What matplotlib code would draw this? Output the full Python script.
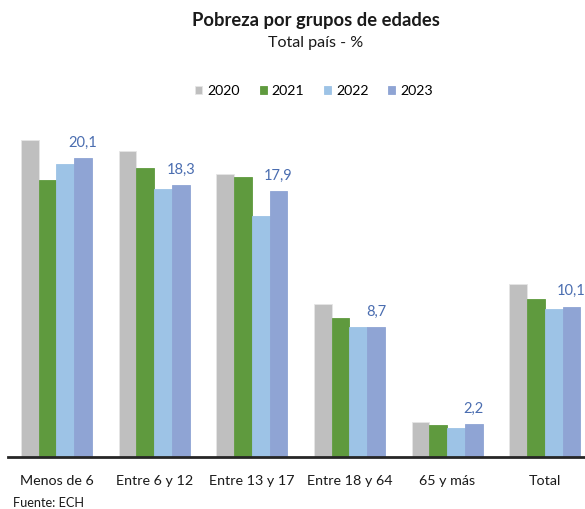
import numpy as np
import matplotlib.pyplot as plt

plt.rcParams['font.family'] = ['Lato', 'DejaVu Sans']

grupos = ['Menos de 6', 'Entre 6 y 12', 'Entre 13 y 17', 'Entre 18 y 64', '65 y más', 'Total']
anios = ['2020', '2021', '2022', '2023']
v2020 = [21.3, 20.6, 19.0, 10.3, 2.3, 11.6]
v2021 = [18.6, 19.4, 18.8, 9.3, 2.1, 10.6]
v2022 = [19.7, 18.0, 16.2, 8.7, 1.9, 9.9]
v2023 = [20.1, 18.3, 17.9, 8.7, 2.2, 10.1]
colores = ['#BFBFBF', '#5F9A3E', '#9DC3E6', '#8FA4D4']
color_etiqueta = '#4A6DB0'

fig = plt.figure(figsize=(5.85, 5.09), dpi=100)
ax = fig.add_axes([0.013, 0.1031, 1.0017, 0.642])

x = np.arange(len(grupos))
w = 0.182
series = [v2020, v2021, v2022, v2023]
for i, (vals, c, lab) in enumerate(zip(series, colores, anios)):
    ax.bar(x + (i - 1.5) * w, vals, width=w, color=c, label=lab,
           edgecolor='#E6E6E6' if i == 0 else c, linewidth=0.6)

# etiquetas solo para 2023
for xi, v in zip(x + 1.5 * w, v2023):
    ax.text(xi, v + 0.55, f'{v:.1f}'.replace('.', ','), ha='center', va='bottom',
            fontsize=10.5, color=color_etiqueta)

ax.set_xlim(-0.5, 5.5)
ax.set_ylim(0, 22)
ax.set_yticks([])
ax.set_xticks(x)
ax.set_xticklabels(grupos, fontsize=10.3, color='#1a1a1a')
ax.tick_params(axis='x', length=0, pad=13)
for s in ['top', 'right', 'left']:
    ax.spines[s].set_visible(False)
ax.spines['bottom'].set_color('#262626')
ax.spines['bottom'].set_linewidth(2)

fig.text(0.540, 0.948, 'Pobreza por grupos de edades', ha='center', va='baseline',
         fontsize=13.2, fontweight='bold', color='#1a1a1a')
fig.text(0.540, 0.907, 'Total país - %', ha='center', va='baseline',
         fontsize=11.6, color='#1a1a1a')

fig.legend(loc='center', bbox_to_anchor=(0.537, 0.822), ncol=4, frameon=False,
           fontsize=10.2, handlelength=0.48, handleheight=0.48, handletextpad=0.36,
           columnspacing=1.4)

fig.text(0.022, 0.004, 'Fuente: ECH', ha='left', va='baseline', fontsize=9.2, color='#1a1a1a')

fig.savefig('out.png', dpi=100)
